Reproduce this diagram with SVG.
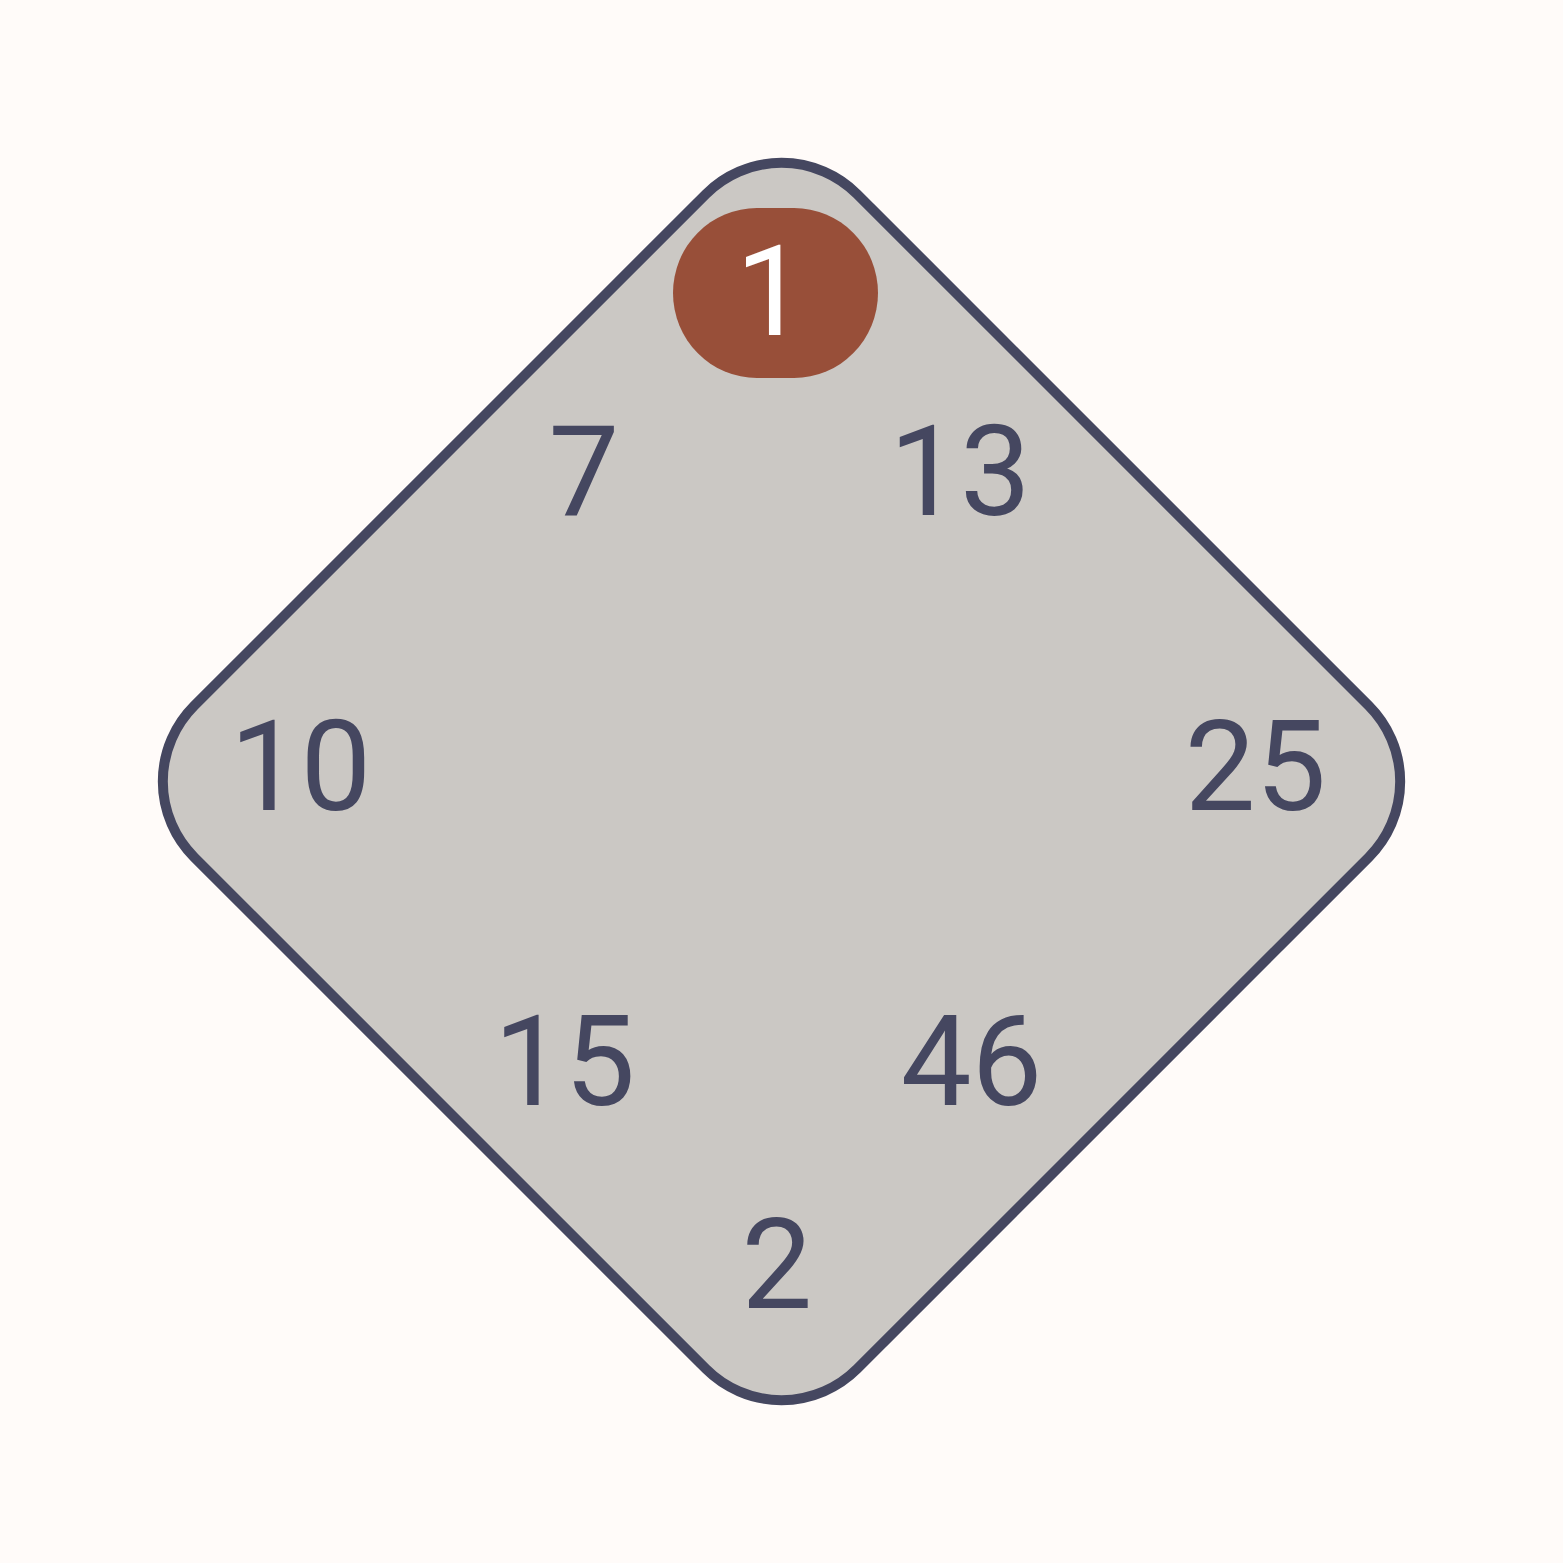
<svg xmlns="http://www.w3.org/2000/svg" width="1563" height="1563" viewBox="0 0 1563 1563">
<style>
.lbl{font-family:Roboto,"Liberation Sans",sans-serif;font-size:126px;fill:#454760;text-anchor:middle}
.lblw{font-family:Roboto,"Liberation Sans",sans-serif;font-size:126px;fill:#ffffff;text-anchor:middle}
</style>
<rect x="0" y="0" width="1563" height="1563" fill="#fffbf9"/>
<g id="diamond">
<path d="M705.8,194.2 A107,107 0 0 1 857.2,194.2 L1368.8,705.8 A107,107 0 0 1 1368.8,857.2 L857.2,1368.8 A107,107 0 0 1 705.8,1368.8 L194.2,857.2 A107,107 0 0 1 194.2,705.8 Z" fill="#cbc8c4" stroke="#454760" stroke-width="10"/>
</g>
<g id="connectors"></g>
<g id="node-1">
<rect x="673" y="208" width="205" height="170" rx="84" ry="85" fill="#984f39"/>
<text class="lblw" x="771" y="335">1</text>
</g>
<g id="node-7"><text class="lbl" x="584" y="515">7</text></g>
<g id="node-13"><text class="lbl" x="960" y="515">13</text></g>
<g id="node-10"><text class="lbl" x="300.5" y="810">10</text></g>
<g id="node-25"><text class="lbl" x="1255.5" y="810">25</text></g>
<g id="node-15"><text class="lbl" x="564.5" y="1105">15</text></g>
<g id="node-46"><text class="lbl" x="971.5" y="1105">46</text></g>
<g id="node-2"><text class="lbl" x="777" y="1308">2</text></g>
</svg>
